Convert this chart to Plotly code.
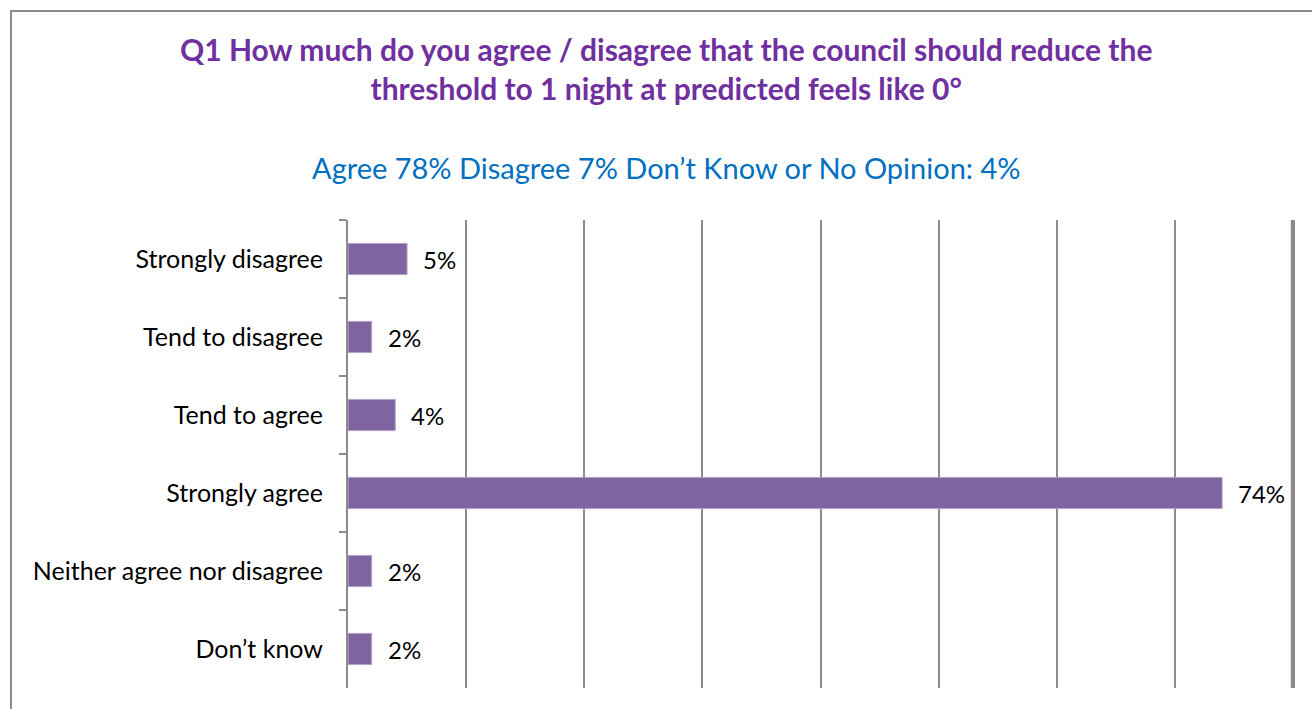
import plotly.graph_objects as go

categories = ["Strongly disagree", "Tend to disagree", "Tend to agree",
              "Strongly agree", "Neither agree nor disagree", "Don\u2019t know"]
values = [0.05, 0.02, 0.04, 0.74, 0.02, 0.02]
value_labels = ["5%", "2%", "4%", "74%", "2%", "2%"]

title_lines = ["Q1 How much do you agree / disagree that the council should reduce the",
               "threshold to 1 night at predicted feels like 0\u00b0"]
subtitle = "Agree 78% Disagree 7% Don\u2019t Know or No Opinion: 4%"

W, H = 1312, 709
L, R, T, B = 348, 1293, 220, 688
FONT = "Lato, Carlito, Calibri, sans-serif"
GRID = "#8C8C8C"

def px(x):
    return (x - L) / (R - L)

def py(y):
    return (B - y) / (B - T)

fig = go.Figure()
fig.add_trace(go.Bar(
    x=values, y=categories, orientation="h",
    marker=dict(color="#8064A2", line=dict(color="#B3A2C7", width=1)),
    width=0.4, hoverinfo="skip",
))

annotations = []
for v, c, lab in zip(values, categories, value_labels):
    annotations.append(dict(x=v, y=c, xref="x", yref="y", text=lab, showarrow=False,
                            xanchor="left", yanchor="middle", xshift=14,
                            font=dict(family=FONT, size=24, color="black")))

annotations.append(dict(x=px(666), y=py(68), xref="paper", yref="paper",
                        text="<br>".join(title_lines), showarrow=False,
                        xanchor="center", yanchor="middle", align="center",
                        font=dict(family=FONT, size=30, color="#7030A0", weight="bold")))
annotations.append(dict(x=px(666), y=py(168), xref="paper", yref="paper",
                        text=subtitle, showarrow=False,
                        xanchor="center", yanchor="middle",
                        font=dict(family=FONT, size=29, color="#0070C0")))

fig.update_layout(
    width=W, height=H,
    margin=dict(l=L, r=W - R, t=T, b=H - B, pad=0),
    paper_bgcolor="white", plot_bgcolor="white",
    showlegend=False, bargap=0.6,
    annotations=annotations,
    shapes=[dict(type="rect", xref="paper", yref="paper",
                 x0=px(11), x1=px(1330), y0=py(11), y1=py(730),
                 line=dict(color=GRID, width=2), layer="below"),
            dict(type="line", xref="paper", yref="paper",
                 x0=px(1292), x1=px(1292), y0=0, y1=1,
                 line=dict(color=GRID, width=2.5), layer="above")],
    xaxis=dict(range=[0, 0.8], dtick=0.1, tick0=0, showgrid=True,
               gridcolor=GRID, gridwidth=2, showticklabels=False,
               zeroline=False, showline=False, fixedrange=True),
    yaxis=dict(categoryorder="array", categoryarray=categories, autorange="reversed",
               showline=True, mirror=True, linecolor=GRID, linewidth=2,
               ticks="outside", tickson="boundaries", ticklen=7, tickcolor=GRID,
               tickwidth=1.5, showgrid=False, ticklabelstandoff=18,
               tickfont=dict(family=FONT, size=25, color="black"), fixedrange=True),
)

fig.write_html("out.html")
